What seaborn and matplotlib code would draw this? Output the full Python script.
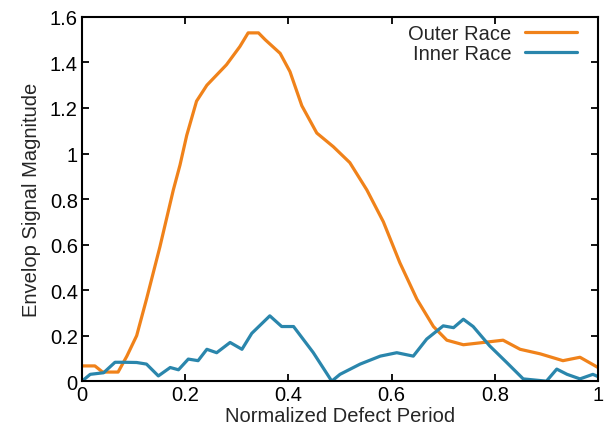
import numpy as np
import pandas as pd
import seaborn as sns
import matplotlib.pyplot as plt

# values
outer_x = [0.0, 0.025, 0.04, 0.07, 0.087, 0.106, 0.125, 0.151, 0.177, 0.19, 0.203,
           0.222, 0.242, 0.28, 0.306, 0.322, 0.342, 0.355, 0.384, 0.403, 0.426,
           0.455, 0.487, 0.519, 0.552, 0.584, 0.616, 0.649, 0.681, 0.707, 0.739,
           0.778, 0.816, 0.849, 0.888, 0.932, 0.965, 1.0]
outer_y = [0.067, 0.067, 0.04, 0.04, 0.11, 0.2, 0.36, 0.59, 0.84, 0.95, 1.08,
           1.23, 1.30, 1.39, 1.47, 1.53, 1.53, 1.50, 1.44, 1.36, 1.21,
           1.09, 1.03, 0.96, 0.84, 0.70, 0.52, 0.36, 0.24, 0.18, 0.16,
           0.17, 0.18, 0.14, 0.12, 0.09, 0.105, 0.06]

inner_x = [0.0, 0.016, 0.042, 0.064, 0.08, 0.106, 0.125, 0.148, 0.171, 0.187,
           0.206, 0.225, 0.242, 0.261, 0.287, 0.31, 0.329, 0.364, 0.387, 0.41,
           0.448, 0.484, 0.5, 0.539, 0.578, 0.61, 0.642, 0.668, 0.7, 0.72,
           0.739, 0.758, 0.79, 0.823, 0.855, 0.90, 0.92, 0.94, 0.965, 0.99, 1.0]
inner_y = [0.0, 0.03, 0.037, 0.083, 0.083, 0.082, 0.075, 0.023, 0.06, 0.05,
           0.097, 0.09, 0.14, 0.125, 0.17, 0.14, 0.21, 0.287, 0.24, 0.24,
           0.126, 0.0, 0.03, 0.075, 0.11, 0.125, 0.11, 0.185, 0.243, 0.235,
           0.272, 0.24, 0.155, 0.082, 0.01, 0.0, 0.053, 0.03, 0.01, 0.03, 0.02]

series = ["Outer Race", "Inner Race"]
colors = ["#f0821a", "#2a86ac"]

df = pd.concat([
    pd.DataFrame({"x": outer_x, "y": outer_y, "s": series[0]}),
    pd.DataFrame({"x": inner_x, "y": inner_y, "s": series[1]}),
])

sns.set_style("ticks")
plt.rcParams["font.family"] = ["Liberation Sans", "DejaVu Sans"]

fig = plt.figure(figsize=(6.05, 4.27), dpi=100)
ax = fig.add_axes([0.1355, 0.105, 0.853, 0.853])

sns.lineplot(data=df, x="x", y="y", hue="s", palette=colors, linewidth=2.3,
             ax=ax, estimator=None, sort=False)

ax.set_xlim(0, 1)
ax.set_ylim(0, 1.6)
ax.set_xticks([0, 0.2, 0.4, 0.6, 0.8, 1])
ax.set_xticklabels(["0", "0.2", "0.4", "0.6", "0.8", "1"])
ax.set_yticks([0, 0.2, 0.4, 0.6, 0.8, 1, 1.2, 1.4, 1.6])
ax.set_yticklabels(["0", "0.2", "0.4", "0.6", "0.8", "1", "1.2", "1.4", "1.6"])
ax.tick_params(direction="in", top=True, right=True, length=5, width=1.3,
               labelsize=14.5, colors="black", pad=3)
for sp in ax.spines.values():
    sp.set_linewidth(1.5)
    sp.set_color("black")

ax.set_xlabel("Normalized Defect Period", fontsize=14.5, labelpad=1)
ax.set_ylabel("Envelop Signal Magnitude", fontsize=14.5, labelpad=6)

leg = ax.legend(loc="upper right", bbox_to_anchor=(0.975, 1.003), frameon=False,
                fontsize=14.5, markerfirst=False, handlelength=2.6,
                handletextpad=0.65, labelspacing=0.05, borderaxespad=0)
for t in leg.get_texts():
    t.set_ha("right")

fig.savefig("out.png", dpi=100)
